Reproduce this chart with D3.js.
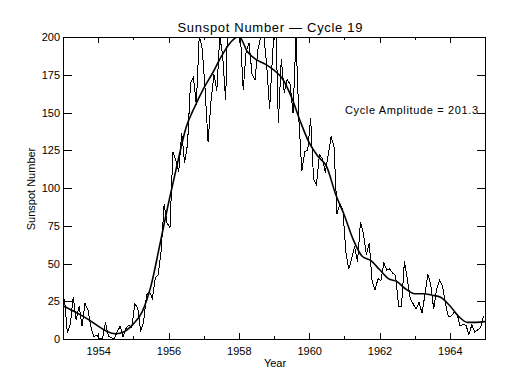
<!DOCTYPE html>
<html>
<head>
<meta charset="utf-8">
<script src="https://cdn.jsdelivr.net/npm/d3@7"></script>
<style>
  html, body { margin: 0; padding: 0; background: #fff; }
  svg { display: block; }
  text { font-family: "Liberation Sans", Arial, sans-serif; fill: #000; }
</style>
</head>
<body>
<svg id="chart" width="532" height="385"></svg>
<script>
// ---- Data (monthly sunspot numbers, Jan 1953 .. Dec 1964) ----
const startYear = 1953;
const monthly1953 = [26.5, 3.9, 10.0, 27.8, 12.5, 21.8, 8.6, 23.5, 19.3, 8.2, 1.6, 2.5];
const monthly1954 = [0.2, 0.5, 10.9, 1.8, 0.8, 0.2, 4.8, 8.4, 1.5, 7.0, 9.2, 7.6];
const monthly1955 = [23.1, 20.8, 4.9, 11.3, 28.9, 31.7, 26.7, 40.7, 42.7, 58.5, 89.2, 76.9];
const monthly1956 = [73.6, 124.0, 118.4, 110.7, 136.6, 116.6, 129.1, 169.6, 173.2, 155.3, 201.3, 192.1];
const monthly1957 = [165.0, 130.2, 157.4, 175.2, 164.6, 200.7, 187.2, 158.0, 235.8, 253.8, 210.9, 239.4];
const monthly1958 = [202.5, 164.9, 190.7, 196.0, 175.3, 171.5, 191.4, 200.2, 201.2, 181.5, 152.3, 187.6];
const monthly1959 = [217.4, 143.1, 185.7, 163.3, 172.0, 168.7, 149.6, 199.6, 145.2, 111.4, 124.0, 125.0];
const monthly1960 = [146.3, 106.0, 102.2, 122.0, 119.6, 110.2, 121.7, 134.1, 127.2, 82.8, 89.6, 85.6];
const monthly1961 = [57.9, 46.1, 53.0, 61.4, 51.0, 77.4, 70.2, 55.9, 63.6, 37.7, 32.6, 40.0];
const monthly1962 = [38.7, 50.3, 45.6, 46.4, 43.7, 42.0, 21.8, 21.8, 51.3, 39.5, 26.9, 23.2];
const monthly1963 = [19.8, 24.4, 17.1, 29.3, 43.0, 35.9, 19.6, 33.2, 38.8, 35.3, 23.4, 14.9];
const monthly1964 = [15.3, 17.7, 16.5, 8.6, 9.5, 9.1, 3.1, 9.3, 4.7, 6.1, 7.4, 15.1];

// Smoothed curve at quarter-year dates
const smoothDates = [1953.00,1953.25,1953.50,1953.75,1954.00,1954.25,1954.50,1954.75,
  1955.00,1955.25,1955.50,1955.75,1956.00,1956.25,1956.50,1956.75,
  1957.00,1957.25,1957.50,1957.75,1958.00,1958.25,1958.50,1958.75,
  1959.00,1959.25,1959.50,1959.75,1960.00,1960.25,1960.50,1960.75,
  1961.00,1961.25,1961.50,1961.75,1962.00,1962.25,1962.50,1962.75,
  1963.00,1963.25,1963.50,1963.75,1964.00,1964.25,1964.50,1964.75,1965.00];
const smoothValues = [22,19,16,12.5,8.5,5,3.5,5,
  10,18,35,62,90,116,140,154,
  166,176,187,196,200.5,190,185,182,
  178,172,160,144,130,121,114,96,
  82,66,55,52,46,40,38,33,
  30,30,29,27.5,22,15,11,11,11.5];

const yTickValues = [0, 25, 50, 75, 100, 125, 150, 175, 200];
const xMajorTicks = [1954, 1956, 1958, 1960, 1962, 1964];
const xMinorTicks = [1955, 1957, 1959, 1961, 1963];

const titleText = "Sunspot Number \u2014 Cycle 19";
const xLabelText = "Year";
const yLabelText = "Sunspot Number";
const amplitudeText = "Cycle Amplitude = 201.3";

// ---- Build table ----
const monthlyAll = [].concat(monthly1953, monthly1954, monthly1955, monthly1956,
  monthly1957, monthly1958, monthly1959, monthly1960, monthly1961, monthly1962,
  monthly1963, monthly1964);
const monthlyData = monthlyAll.map((v, i) => ({ t: startYear + (i + 0.5) / 12, v }));
const smoothData = smoothDates.map((t, i) => ({ t, v: smoothValues[i] }));

// ---- Layout ----
const L = 63, R = 485, T = 37, B = 339;
const svg = d3.select("#chart");
svg.append("rect").attr("width", 532).attr("height", 385).attr("fill", "#fff");

const x = d3.scaleLinear().domain([1953, 1965]).range([L, R]);
const y = d3.scaleLinear().domain([0, 200]).range([B, T]);

svg.append("clipPath").attr("id", "clip")
  .append("rect").attr("x", L).attr("y", T).attr("width", R - L).attr("height", B - T);

const plot = svg.append("g").attr("clip-path", "url(#clip)");

plot.append("path")
  .datum(monthlyData)
  .attr("fill", "none").attr("stroke", "#000").attr("stroke-width", 1)
  .attr("shape-rendering", "crispEdges")
  .attr("d", d3.line().x(d => x(d.t)).y(d => y(d.v)));

plot.append("path")
  .datum(smoothData)
  .attr("fill", "none").attr("stroke", "#000").attr("stroke-width", 1.6)
  .attr("d", d3.line().x(d => x(d.t)).y(d => y(d.v)).curve(d3.curveMonotoneX));

// ---- Axes ----
function styleAxis(g) {
  g.select(".domain").remove();
  g.selectAll(".tick line").attr("stroke", "#000").attr("shape-rendering", "crispEdges");
  g.selectAll(".tick text").attr("font-size", 11).attr("fill", "#000")
    .attr("font-family", "'Liberation Sans', Arial, sans-serif");
}

svg.append("g").attr("transform", `translate(0,${B})`)
  .call(d3.axisBottom(x).tickValues(xMajorTicks).tickFormat(d3.format("d")).tickSize(-6).tickPadding(8))
  .call(styleAxis);
svg.append("g").attr("transform", `translate(0,${B})`)
  .call(d3.axisBottom(x).tickValues(xMinorTicks).tickFormat("").tickSize(-3))
  .call(styleAxis);
svg.append("g").attr("transform", `translate(0,${T})`)
  .call(d3.axisTop(x).tickValues(xMajorTicks).tickFormat("").tickSize(-6))
  .call(styleAxis);
svg.append("g").attr("transform", `translate(0,${T})`)
  .call(d3.axisTop(x).tickValues(xMinorTicks).tickFormat("").tickSize(-3))
  .call(styleAxis);
svg.append("g").attr("transform", `translate(${L},0)`)
  .call(d3.axisLeft(y).tickValues(yTickValues).tickFormat(d3.format("d")).tickSize(-8.5).tickPadding(3))
  .call(styleAxis);
svg.append("g").attr("transform", `translate(${R},0)`)
  .call(d3.axisRight(y).tickValues(yTickValues).tickFormat("").tickSize(-8.5))
  .call(styleAxis);

// frame
svg.append("rect")
  .attr("x", L + 0.5).attr("y", T + 0.5).attr("width", R - L).attr("height", B - T)
  .attr("fill", "none").attr("stroke", "#000").attr("stroke-width", 1)
  .attr("shape-rendering", "crispEdges");

// ---- Texts ----
svg.append("text").attr("x", 270).attr("y", 32).attr("text-anchor", "middle")
  .attr("font-size", 13).attr("textLength", 185).attr("lengthAdjust", "spacing")
  .text(titleText);
svg.append("text").attr("x", 275).attr("y", 367).attr("text-anchor", "middle")
  .attr("font-size", 11).text(xLabelText);
svg.append("text").attr("transform", `translate(35,189) rotate(-90)`).attr("text-anchor", "middle")
  .attr("font-size", 11).text(yLabelText);
svg.append("text").attr("x", 345).attr("y", 114).attr("text-anchor", "start")
  .attr("font-size", 11).attr("textLength", 133).attr("lengthAdjust", "spacing")
  .text(amplitudeText);
</script>
</body>
</html>
